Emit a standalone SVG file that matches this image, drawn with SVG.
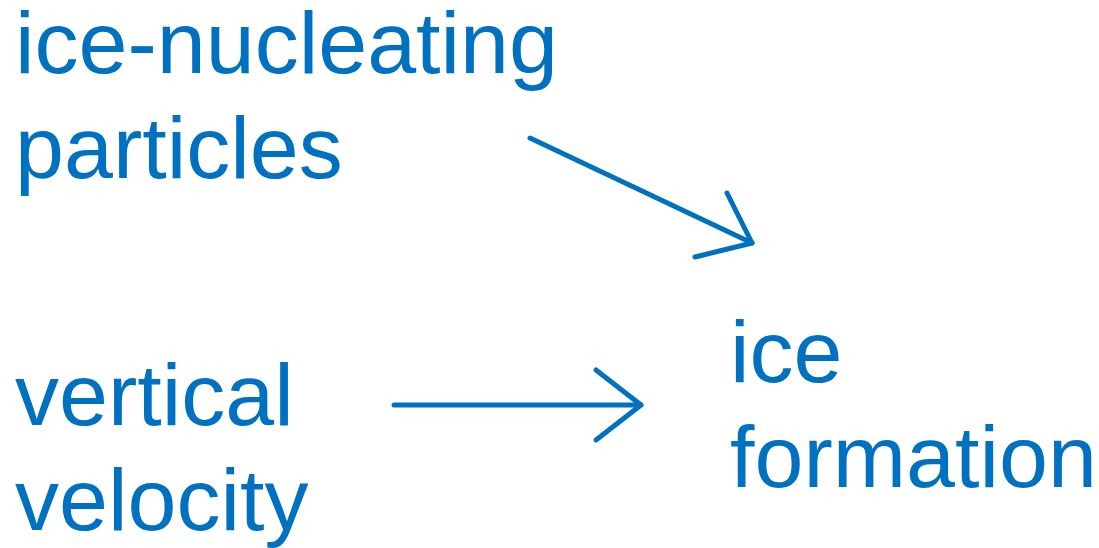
<svg xmlns="http://www.w3.org/2000/svg" width="1099" height="548" viewBox="0 0 1099 548">
  <style>
    .label { font-family: "Liberation Sans", Arial, sans-serif; font-size: 88px; fill: #0070C0; }
    .link { fill: none; stroke: #0070C0; stroke-width: 5; stroke-linecap: round; stroke-linejoin: round; }
  </style>
  <rect width="1099" height="548" fill="#ffffff"/>
  <g id="ice-nucleating-particles">
    <text class="label" x="15" y="73">ice-nucleating</text>
    <text class="label" x="15" y="178">particles</text>
  </g>
  <g id="vertical-velocity">
    <text class="label" x="15" y="425">vertical</text>
    <text class="label" x="15" y="530">velocity</text>
  </g>
  <g id="ice-formation">
    <text class="label" x="730" y="382">ice</text>
    <text class="label" x="730" y="487">formation</text>
  </g>
  <g id="connectors">
    <path class="link" d="M530 138 L752 243"/>
    <path class="link" d="M727 193 L752 243 L695 257"/>
    <path class="link" d="M394 405 L641 405"/>
    <path class="link" d="M596 370 L641 405 L596 440"/>
  </g>
</svg>
